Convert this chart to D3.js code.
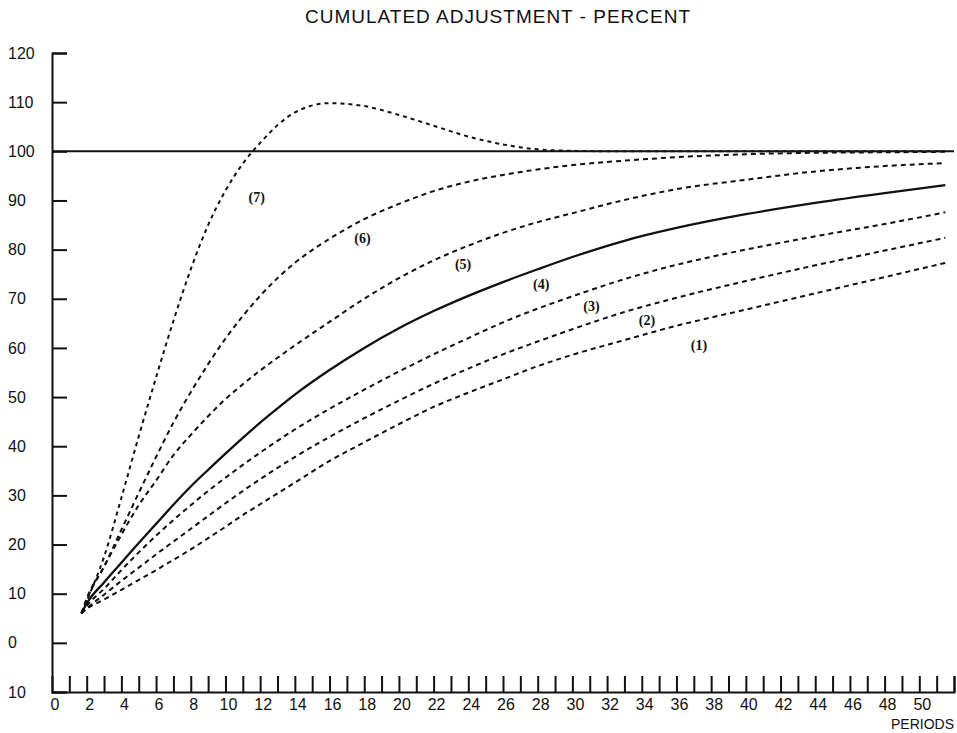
<!DOCTYPE html>
<html>
<head>
<meta charset="utf-8">
<script src="https://cdn.jsdelivr.net/npm/d3@7"></script>
<style>
  html, body { margin: 0; padding: 0; background: #fff; }
  svg { display: block; }
</style>
</head>
<body>
<div id="chart"></div>
<script>
const periods = [1.7, 2, 3, 4, 5, 6, 7, 8, 9, 10, 11, 12, 13, 14, 16, 18, 20, 22, 24, 26, 28, 30, 33, 36, 40, 44, 48, 51.5];

// cumulated adjustment, percent
const curve1 = [6, 6.9, 8.8, 10.8, 12.8, 14.8, 16.9, 19, 21.3, 23.6, 26, 28.2, 30.4, 32.6, 37.0, 40.8, 44.5, 48, 50.9, 53.6, 56.3, 58.6, 61.6, 64.5, 67.8, 71.1, 74.4, 77.3];
const curve2 = [6, 7, 9.8, 12.6, 15.3, 18, 20.6, 23.2, 25.8, 28.4, 30.9, 33.3, 35.6, 37.8, 41.9, 45.7, 49.3, 52.7, 55.8, 58.7, 61.3, 63.8, 67.3, 70.2, 73.6, 76.8, 79.8, 82.4];
const curve3 = [6, 7.5, 11, 14.8, 18.4, 21.8, 25, 28, 30.9, 33.6, 36.2, 38.7, 41.1, 43.4, 47.6, 51.5, 55.2, 58.7, 62, 65.2, 68, 70.5, 74, 76.9, 80, 82.7, 85.2, 87.6];
const curve4 = [6, 8, 12.3, 16.3, 20.3, 24.2, 28.1, 31.8, 35.2, 38.5, 41.7, 44.8, 47.7, 50.5, 55.5, 60, 64, 67.5, 70.6, 73.4, 76, 78.5, 81.8, 84.4, 87.2, 89.5, 91.5, 93.1];
const curve5 = [6, 8.8, 15.5, 22, 28, 33, 38.2, 42.3, 46.1, 49.6, 52.6, 55.4, 58, 60.5, 65.3, 70, 74.2, 77.8, 80.8, 83.4, 85.6, 87.4, 90.1, 92.3, 94.2, 95.9, 97, 97.6];
const curve6 = [6, 9, 15.5, 23, 30.5, 37.8, 44.8, 51, 56.7, 61.9, 66.5, 70.6, 74.2, 77.3, 82.2, 86.2, 89.3, 91.9, 93.8, 95.2, 96.3, 97.2, 98.1, 98.8, 99.4, 99.7, 99.8, 99.9];
const curve7 = [6, 8.5, 17.5, 29.5, 42, 54, 65.5, 76, 85, 92, 97.5, 101.7, 105.3, 107.9, 109.8, 109.2, 107.4, 105.2, 103, 101.4, 100.4, 100.1, 100, 100, 100, 100, 100, 100];

const seriesNames = ['(1)', '(2)', '(3)', '(4)', '(5)', '(6)', '(7)'];
const seriesValues = [curve1, curve2, curve3, curve4, curve5, curve6, curve7];
// where each curve's number is written, in data units
const labelPeriods = [37.3, 34.3, 31.1, 28.2, 23.7, 17.9, 11.8];
const labelValues = [60.4, 65.5, 68.5, 73.0, 76.9, 82.2, 90.7];

const yTickValues = [-10, 0, 10, 20, 30, 40, 50, 60, 70, 80, 90, 100, 110, 120];
const xTickValues = d3.range(1, 53);
const xLabelValues = d3.range(0, 51, 2);

const width = 957, height = 733;

const svg = d3.select('#chart').append('svg')
  .attr('width', width)
  .attr('height', height);

const x = d3.scaleLinear().domain([0, 52]).range([52, 954]);
const y = d3.scaleLinear().domain([-10, 120]).range([692, 53]);

const ink = '#111';
const sans = '"Liberation Sans", Arial, sans-serif';

// title
svg.append('text')
  .attr('x', 305)
  .attr('y', 23)
  .attr('textLength', 385)
  .attr('lengthAdjust', 'spacing')
  .style('font-family', sans)
  .style('font-size', '19px')
  .attr('fill', ink)
  .text('CUMULATED ADJUSTMENT  -  PERCENT');

// y axis, ticks pointing into the plot
const yAxis = svg.append('g')
  .attr('transform', `translate(${x(0)},0)`)
  .call(d3.axisLeft(y).tickValues(yTickValues).tickSize(-15).tickFormat(d => Math.abs(d)));
yAxis.select('.domain').attr('stroke', ink).attr('stroke-width', 2);
yAxis.selectAll('.tick line').attr('stroke', ink).attr('stroke-width', 2);
yAxis.selectAll('.tick text')
  .attr('x', 8 - x(0))
  .attr('text-anchor', 'start')
  .attr('fill', ink)
  .style('font-family', sans)
  .style('font-size', '16px');

// x axis, ticks pointing up
const xAxis = svg.append('g')
  .attr('transform', `translate(0,${y(-10)})`)
  .call(d3.axisBottom(x).tickValues(xTickValues).tickSize(-16).tickFormat(''));
xAxis.select('.domain').attr('stroke', ink).attr('stroke-width', 2);
xAxis.selectAll('.tick line').attr('stroke', ink).attr('stroke-width', 2);

svg.append('g')
  .selectAll('text')
  .data(xLabelValues)
  .join('text')
  .attr('x', d => x(d) + 3)
  .attr('y', y(-10) + 18)
  .attr('text-anchor', 'middle')
  .attr('fill', ink)
  .style('font-family', sans)
  .style('font-size', '16px')
  .text(d => d);

svg.append('text')
  .attr('x', x(52))
  .attr('y', 729)
  .attr('text-anchor', 'end')
  .attr('fill', ink)
  .style('font-family', sans)
  .style('font-size', '14px')
  .text('PERIODS');

// 100 percent line
svg.append('line')
  .attr('x1', x(0))
  .attr('x2', x(52))
  .attr('y1', y(100))
  .attr('y2', y(100))
  .attr('stroke', ink)
  .attr('stroke-width', 2);

const line = d3.line()
  .x((d, i) => x(periods[i]))
  .y(d => y(d))
  .curve(d3.curveMonotoneX);

svg.append('g')
  .selectAll('path')
  .data(seriesValues)
  .join('path')
  .attr('d', d => line(d))
  .attr('fill', 'none')
  .attr('stroke', ink)
  .attr('stroke-width', (d, i) => i === 3 ? 2.3 : 2)
  .attr('stroke-dasharray', (d, i) => i === 3 ? null : (i === 6 ? '4,4' : '5,4'));

svg.append('g')
  .selectAll('text')
  .data(seriesNames)
  .join('text')
  .attr('x', (d, i) => x(labelPeriods[i]))
  .attr('y', (d, i) => y(labelValues[i]))
  .attr('text-anchor', 'middle')
  .attr('dominant-baseline', 'central')
  .attr('fill', ink)
  .style('font-family', '"Liberation Serif", "DejaVu Serif", serif')
  .style('font-weight', 'bold')
  .style('font-size', '14px')
  .text(d => d);
</script>
</body>
</html>
